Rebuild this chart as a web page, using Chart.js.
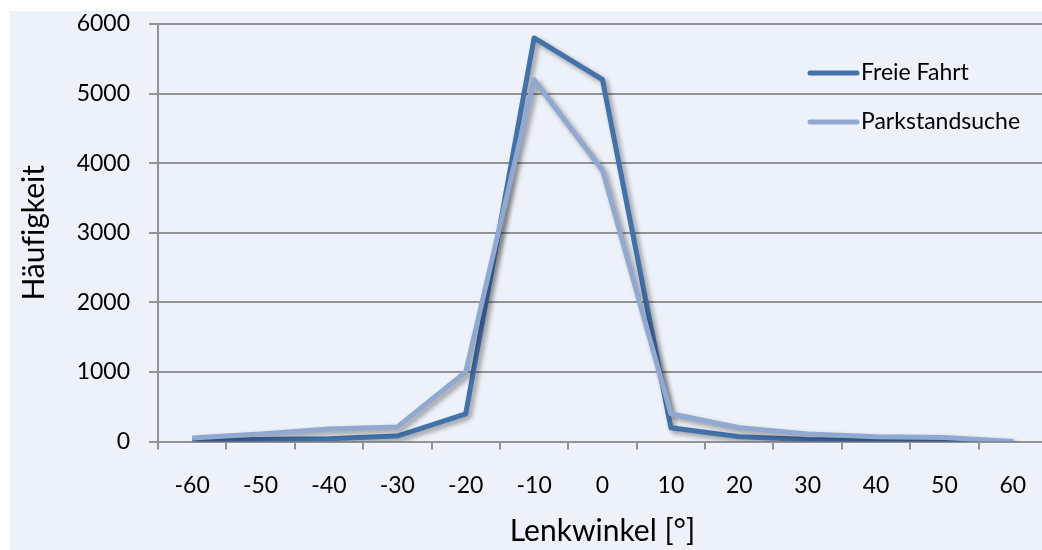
<!DOCTYPE html>
<html>
<head>
<meta charset="utf-8">
<script src="https://cdn.jsdelivr.net/npm/chart.js@4/dist/chart.umd.min.js"></script>
<style>
  html, body { margin: 0; padding: 0; background: #ffffff; overflow: hidden; }
  #wrap { position: absolute; left: 10px; top: 11px; width: 1050px; height: 539px; background: #edf1f9; }
</style>
</head>
<body>
<div id="wrap"><canvas id="chart"></canvas></div>
<script>
// Steering angle classes (degrees)
const lenkwinkel = [-60, -50, -40, -30, -20, -10, 0, 10, 20, 30, 40, 50, 60];
// Frequencies per class
const freieFahrt     = [20, 30, 40, 80, 400, 5800, 5200, 200, 70, 30, 15, 10, 0];
const parkstandsuche = [50, 110, 180, 210, 1000, 5200, 3900, 400, 200, 110, 70, 60, 0];
// Y axis range
const yTicks = { min: 0, max: 6000, step: 1000 };

const FONT = 'Lato, "Open Sans", sans-serif';
const GRID = '#939393';

// soft drop shadow under each series line
const lineShadow = {
  id: 'lineShadow',
  beforeDatasetDraw(chart) {
    const c = chart.ctx;
    c.save();
    c.shadowColor = 'rgba(0,0,0,0.38)';
    c.shadowBlur = 5;
    c.shadowOffsetX = 3;
    c.shadowOffsetY = 3;
  },
  afterDatasetDraw(chart) { chart.ctx.restore(); }
};

// legend drawn inside the plot, top right
const insideLegend = {
  id: 'insideLegend',
  afterDraw(chart, args, opts) {
    const c = chart.ctx;
    const x0 = chart.chartArea.right - opts.fromRight;
    c.save();
    c.font = opts.font;
    c.textBaseline = 'middle';
    c.textAlign = 'left';
    chart.data.datasets.forEach((ds, i) => {
      const y = opts.top + i * opts.rowGap;
      c.strokeStyle = ds.borderColor;
      c.lineWidth = 5;
      c.lineCap = 'round';
      c.beginPath();
      c.moveTo(x0, y);
      c.lineTo(x0 + opts.lineLen, y);
      c.stroke();
      c.fillStyle = '#000';
      c.fillText(ds.label, x0 + opts.lineLen + 4, y);
    });
    c.restore();
  }
};

new Chart(document.getElementById('chart'), {
  type: 'line',
  data: {
    labels: lenkwinkel.map(String),
    datasets: [
      { label: 'Freie Fahrt', data: freieFahrt, borderColor: '#4371a9', order: 2 },
      { label: 'Parkstandsuche', data: parkstandsuche, borderColor: '#91a8d0', order: 1 }
    ]
  },
  options: {
    responsive: true,
    maintainAspectRatio: false,
    animation: false,
    layout: { padding: { top: 13, right: 13, left: 0, bottom: 0 } },
    elements: {
      line: { borderWidth: 5, tension: 0, borderJoinStyle: 'round', borderCapStyle: 'butt', fill: false },
      point: { radius: 0, hoverRadius: 0 }
    },
    plugins: {
      legend: { display: false },
      tooltip: { enabled: false },
      insideLegend: { fromRight: 237, top: 62, rowGap: 49, lineLen: 47, font: '23px ' + FONT }
    },
    scales: {
      x: {
        type: 'category',
        offset: true,
        grid: { offset: true, drawOnChartArea: false, drawTicks: true, tickLength: 8, color: GRID, lineWidth: 2 },
        border: { display: true, color: GRID, width: 2 },
        ticks: { color: '#000', font: { family: FONT, size: 23 }, padding: 22, maxRotation: 0, autoSkip: false },
        title: { display: true, text: 'Lenkwinkel [°]', color: '#000', font: { family: FONT, size: 30 }, padding: { top: 0, bottom: 1 } },
        afterFit(s) { s.height = 108.4; s.paddingLeft = 0; s.paddingRight = 0; }
      },
      y: {
        min: yTicks.min,
        max: yTicks.max,
        grid: { color: GRID, lineWidth: 2, drawTicks: true, tickLength: 9 },
        border: { display: true, color: GRID, width: 2 },
        ticks: { stepSize: yTicks.step, color: '#000', font: { family: FONT, size: 23 }, padding: 19,
                 callback: v => String(v) },
        // zero-width non-joiner keeps "f" and "i" as separate glyphs
        title: { display: true, text: 'H\u00e4uf\u200cigkeit', color: '#000', font: { family: FONT, size: 30 }, padding: { top: 6, bottom: 0 } },
        afterFit(s) { s.width = 148; s.paddingTop = 0; s.paddingBottom = 0; }
      }
    }
  },
  plugins: [lineShadow, insideLegend]
});
</script>
</body>
</html>
